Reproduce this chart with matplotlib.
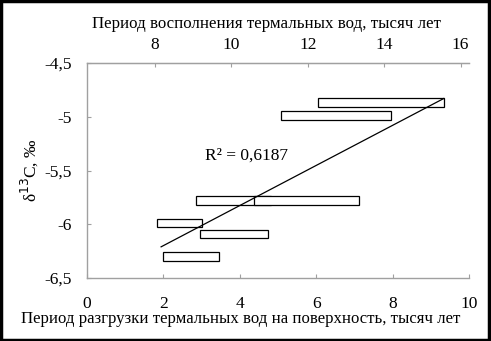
import matplotlib.pyplot as plt
from matplotlib.patches import Rectangle

plt.rcParams['font.family'] = ['Liberation Serif', 'DejaVu Serif']

# rectangles: discharge-period range (bottom axis) at each delta13C value
bar_left = [6.04, 5.09, 2.85, 4.37, 1.82, 2.97, 1.99]
bar_right = [9.35, 7.95, 4.82, 7.12, 3.02, 4.74, 3.46]
bar_y = [-4.87, -4.99, -5.78, -5.78, -5.99, -6.09, -6.30]

trend_x = [1.94, 9.34]
trend_y = [-6.21, -4.83]

x_ticks = [0, 2, 4, 6, 8, 10]
y_ticks = [-6.5, -6, -5.5, -5, -4.5]
y_labels = ['-6,5', '-6', '-5,5', '-5', '-4,5']
top_ticks = [8, 10, 12, 14, 16]
top_offset = 6.22

fig = plt.figure(figsize=(4.91, 3.41), dpi=100)
ax = fig.add_axes([87/491, 1 - 278/341, (469-87)/491, (278-63)/341])

widths = [r - l for l, r in zip(bar_left, bar_right)]
ax.barh(bar_y, widths, left=bar_left, height=0.08, color='white',
        edgecolor='black', linewidth=0.9, zorder=2)
ax.plot(trend_x, trend_y, color='black', linewidth=0.9, zorder=3)

ax.set_xlim(0, 10)
ax.set_ylim(-6.5, -4.5)
ax.set_xticks(x_ticks)
ax.set_yticks(y_ticks)
ax.set_yticklabels(y_labels)

ax.spines['right'].set_visible(False)
for s in ['left', 'bottom', 'top']:
    ax.spines[s].set_color('#a0a0a0')
    ax.spines[s].set_linewidth(1)
ax.tick_params(direction='in', length=3, color='#a0a0a0', labelsize=12.5)
ax.tick_params(axis='x', pad=13)
ax.tick_params(axis='y', pad=11)

top = ax.secondary_xaxis('top', functions=(lambda v: v + top_offset,
                                           lambda v: v - top_offset))
top.set_xticks(top_ticks)
top.tick_params(direction='in', length=3, color='#a0a0a0', labelsize=12.5, pad=7)
top.spines['top'].set_color('#a0a0a0')
top.set_xlabel('Период восполнения термальных вод, тысяч лет', fontsize=12.2)
top.xaxis.set_label_coords(0.469, 1.163, transform=ax.transAxes)

ax.set_xlabel('Период разгрузки термальных вод на поверхность, тысяч лет',
              fontsize=12.1)
ax.xaxis.set_label_coords(0.403, -0.153)
ax.set_ylabel('δ$^{13}$C, ‰', fontsize=12.5)
ax.yaxis.set_label_coords(-0.123, 0.5)

ax.text(3.1, -5.40, 'R² = 0,6187', fontsize=12.5)

fig.patches.append(Rectangle((0.002, 0.004), 0.994, 0.992, transform=fig.transFigure,
                             fill=False, edgecolor='black', linewidth=2.5))

fig.savefig('out.png', dpi=100)
